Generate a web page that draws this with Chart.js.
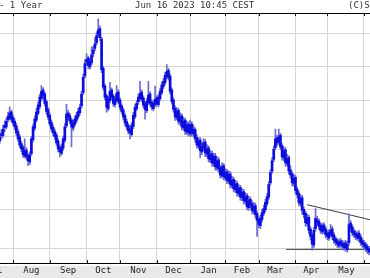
<!DOCTYPE html>
<html>
<head>
<meta charset="utf-8">
<script src="https://cdn.jsdelivr.net/npm/chart.js@4.4.0/dist/chart.umd.min.js"></script>
<style>
  html, body { margin: 0; padding: 0; background: #fff; }
  #wrap { position: relative; width: 370px; height: 278px; overflow: hidden; }
  #band { position: absolute; left: 0; top: 266px; width: 370px; height: 12px; background: #e9e9e9; }
  canvas { position: absolute; left: 0; top: 0; }
  .hdr { position: absolute; top: 0; font: 9px "DejaVu Sans Mono", monospace; color: #333; white-space: pre; line-height: 11px; }
</style>
</head>
<body>
<div id="wrap">
  <div id="band"></div>
  <canvas id="chart" width="370" height="278"></canvas>
  <div class="hdr" style="left:-1px">- 1 Year</div>
  <div class="hdr" style="left:135px">Jun 16 2023 10:45 CEST</div>
  <div class="hdr" style="left:348px">(C)S</div>
</div>
<script>
// daily bars, one per trading day (index 0 ~ late July 2022)
const opens = [
  328.6, 330.2, 330.1, 332.4, 332.6, 334.6, 335.0, 336.9, 335.3, 334.2,
  332.9, 331.3, 329.8, 327.9, 326.9, 324.5, 326.2, 324.6, 322.8, 325.1,
  329.0, 332.2, 334.5, 336.4, 338.4, 340.7, 343.2, 342.1, 339.8, 337.5,
  335.9, 333.9, 332.5, 331.3, 330.3, 328.6, 326.8, 325.2, 326.6, 328.8,
  332.9, 336.6, 335.8, 334.5, 332.2, 333.3, 334.4, 335.5, 336.6, 338.6,
  342.4, 347.3, 351.4, 352.6, 350.0, 351.2, 353.9, 355.5, 357.3, 359.8,
  361.6, 358.4, 349.6, 344.4, 341.5, 337.8, 340.1, 343.2, 341.5, 338.9,
  340.1, 342.6, 340.3, 338.6, 337.4, 335.8, 334.1, 333.0, 331.8, 330.5,
  332.7, 335.5, 337.8, 339.7, 340.7, 342.6, 340.9, 339.2, 337.2, 339.5,
  342.1, 339.7, 337.8, 338.9, 340.9, 338.9, 340.7, 342.4, 344.2, 345.3,
  347.1, 349.0, 347.3, 343.2, 340.3, 337.9, 335.1, 337.3, 333.9, 335.7,
  332.3, 334.5, 331.1, 333.4, 330.6, 333.4, 330.6, 331.8, 329.6, 327.2,
  328.9, 325.6, 326.7, 328.4, 325.0, 326.7, 323.4, 325.1, 322.3, 324.5,
  321.2, 323.4, 321.2, 319.0, 321.8, 318.5, 320.2, 317.5, 319.6, 316.4,
  318.1, 315.3, 317.0, 314.2, 315.9, 313.1, 314.8, 312.1, 313.7, 310.5,
  312.7, 311.6, 309.5, 311.1, 309.0, 307.5, 305.8, 307.4, 309.0, 310.0,
  311.6, 313.3, 317.1, 320.3, 323.5, 326.8, 329.6, 328.5, 330.2, 327.3,
  323.9, 326.2, 322.3, 324.0, 320.7, 319.6, 316.9, 318.6, 315.4, 314.3,
  311.6, 313.2, 310.1, 309.0, 306.3, 308.0, 304.9, 303.3, 300.8, 305.0,
  307.3, 307.0, 306.0, 304.2, 306.0, 305.0, 303.9, 302.6, 303.6, 305.0,
  303.4, 302.4, 301.9, 300.6, 301.9, 301.4, 300.1, 301.4, 299.6, 301.4,
  306.5, 305.5, 304.4, 303.9, 302.6, 303.9, 302.9, 301.9, 301.4, 300.9,
  300.4, 299.9
];
const highs = [
  331.0, 331.8, 333.0, 334.3, 335.1, 336.8, 338.3, 337.4, 336.0, 334.9,
  333.6, 332.0, 330.4, 328.6, 327.4, 329.2, 326.8, 325.2, 325.6, 329.9,
  333.4, 335.7, 337.9, 339.7, 342.0, 344.5, 343.9, 342.6, 340.3, 338.1,
  336.5, 334.6, 333.2, 332.0, 330.9, 329.2, 327.5, 327.8, 330.0, 333.5,
  339.0, 337.3, 336.4, 335.1, 334.5, 335.6, 336.7, 337.9, 339.1, 342.9,
  347.8, 352.2, 354.0, 353.2, 352.6, 356.0, 356.2, 358.8, 360.6, 364.6,
  362.4, 358.9, 350.2, 345.0, 342.0, 341.3, 345.4, 343.8, 342.0, 341.3,
  344.5, 343.2, 340.9, 339.2, 338.0, 336.4, 334.8, 333.6, 332.4, 333.9,
  336.7, 339.0, 340.2, 342.0, 345.7, 343.2, 341.5, 339.8, 340.7, 345.7,
  342.7, 340.3, 340.1, 344.3, 341.5, 341.9, 343.7, 345.5, 346.6, 348.4,
  350.7, 349.6, 347.9, 343.8, 340.9, 338.6, 338.1, 337.9, 336.6, 336.3,
  335.3, 335.1, 334.2, 334.0, 334.5, 334.0, 333.1, 332.4, 330.4, 329.6,
  329.6, 328.2, 329.3, 329.0, 327.6, 327.3, 326.0, 325.8, 325.3, 325.2,
  324.3, 324.0, 321.9, 322.6, 322.4, 321.0, 320.8, 320.4, 320.2, 318.9,
  318.7, 317.8, 317.6, 316.7, 316.5, 315.6, 315.4, 314.5, 314.3, 313.5,
  313.4, 312.3, 311.9, 311.7, 309.6, 308.1, 308.6, 310.1, 311.2, 312.8,
  314.3, 317.5, 320.7, 324.0, 327.3, 332.0, 330.3, 332.0, 330.8, 327.9,
  327.0, 326.8, 324.9, 324.6, 321.8, 320.2, 319.5, 319.2, 316.0, 314.9,
  314.0, 313.8, 310.7, 309.6, 308.8, 308.6, 305.5, 303.9, 305.4, 310.3,
  308.3, 307.6, 306.6, 306.4, 306.6, 305.6, 304.5, 304.8, 306.1, 305.6,
  304.0, 303.0, 302.5, 302.3, 302.5, 302.0, 301.8, 302.0, 301.8, 308.9,
  307.1, 306.1, 305.0, 304.5, 304.3, 304.5, 303.5, 302.5, 302.0, 301.5,
  301.0, 300.5
];
const lows = [
  327.9, 329.1, 329.6, 331.2, 332.0, 333.9, 334.6, 334.0, 333.0, 331.8,
  330.2, 328.6, 326.8, 325.6, 324.1, 323.9, 323.5, 321.8, 322.1, 324.6,
  328.4, 331.6, 333.9, 335.9, 337.8, 340.0, 340.6, 338.6, 336.2, 334.6,
  332.8, 331.2, 330.1, 329.0, 327.4, 325.6, 324.2, 324.7, 326.0, 328.2,
  332.3, 334.6, 333.5, 327.0, 331.5, 332.7, 333.8, 334.9, 336.0, 338.0,
  341.8, 346.7, 350.4, 349.5, 349.3, 350.6, 353.0, 354.8, 356.6, 358.9,
  357.9, 348.3, 343.2, 340.3, 336.8, 337.1, 339.5, 340.4, 338.5, 338.2,
  339.6, 339.2, 337.4, 336.3, 334.6, 332.9, 331.8, 330.6, 329.2, 329.9,
  332.1, 334.9, 337.2, 339.0, 340.1, 339.7, 338.0, 334.8, 336.6, 338.9,
  338.6, 337.4, 337.1, 338.3, 338.5, 338.3, 340.1, 341.8, 343.6, 344.7,
  346.4, 346.1, 342.0, 339.1, 336.8, 334.4, 334.6, 333.3, 333.1, 331.7,
  331.6, 330.5, 330.4, 330.0, 329.9, 330.0, 329.8, 328.2, 326.6, 326.4,
  324.0, 324.8, 325.9, 324.3, 324.2, 322.8, 322.6, 321.7, 321.5, 320.6,
  320.5, 320.0, 318.4, 318.5, 317.9, 317.8, 316.9, 317.0, 315.8, 315.7,
  314.7, 314.6, 313.6, 313.5, 312.5, 312.4, 311.5, 311.4, 309.9, 309.8,
  310.4, 308.9, 308.8, 307.8, 303.0, 305.2, 305.0, 306.8, 308.4, 309.4,
  311.0, 312.7, 316.5, 319.7, 322.9, 326.2, 327.3, 327.7, 326.2, 323.3,
  323.2, 321.7, 321.6, 319.5, 318.4, 316.3, 316.2, 314.2, 313.1, 311.0,
  310.9, 308.9, 307.8, 305.7, 305.6, 303.7, 302.1, 299.5, 300.2, 304.4,
  305.8, 304.8, 303.8, 303.6, 303.8, 302.7, 302.2, 302.0, 303.0, 302.2,
  301.2, 300.7, 300.2, 300.0, 300.2, 299.7, 299.5, 299.2, 299.0, 300.8,
  304.3, 303.2, 302.7, 302.2, 302.0, 301.7, 300.7, 300.2, 299.7, 299.2,
  298.7, 298.3
];
const closes = [
  329.8, 330.6, 332.0, 333.1, 334.2, 335.6, 336.5, 334.8, 333.7, 332.6,
  330.9, 329.2, 327.5, 326.4, 324.8, 325.9, 324.2, 323.1, 324.8, 329.2,
  332.6, 334.8, 336.8, 338.8, 341.1, 342.8, 341.7, 339.3, 337.0, 335.4,
  333.4, 332.0, 330.9, 329.8, 328.1, 326.4, 325.6, 327.0, 329.2, 332.6,
  336.2, 335.4, 334.2, 332.6, 333.7, 334.8, 335.9, 337.0, 338.2, 342.0,
  346.9, 351.0, 352.2, 350.4, 351.6, 353.6, 355.1, 356.9, 359.4, 361.2,
  358.8, 349.2, 344.0, 341.1, 338.2, 340.5, 342.8, 341.1, 339.3, 340.5,
  342.2, 339.9, 338.2, 337.0, 335.4, 333.7, 332.6, 331.4, 330.9, 333.1,
  335.9, 338.2, 339.3, 341.1, 342.2, 340.5, 338.8, 337.6, 339.9, 341.7,
  339.3, 338.2, 339.3, 340.5, 339.3, 341.1, 342.8, 344.6, 345.7, 347.5,
  348.6, 346.9, 342.8, 339.9, 337.6, 335.4, 337.0, 334.2, 335.4, 332.6,
  334.2, 331.4, 333.1, 330.9, 333.1, 330.9, 332.0, 329.2, 327.5, 328.6,
  325.9, 327.0, 328.1, 325.3, 326.4, 323.7, 324.8, 322.6, 324.2, 321.5,
  323.1, 320.9, 319.3, 321.5, 318.8, 319.9, 317.8, 319.3, 316.7, 317.8,
  315.6, 316.7, 314.5, 315.6, 313.4, 314.5, 312.4, 313.4, 310.8, 312.4,
  311.3, 309.8, 310.8, 308.7, 307.2, 306.1, 307.7, 309.2, 310.3, 311.9,
  313.4, 316.7, 319.9, 323.1, 326.4, 329.2, 328.1, 329.8, 327.0, 324.2,
  325.9, 322.6, 323.7, 320.4, 319.3, 317.2, 318.3, 315.1, 314.0, 311.9,
  312.9, 309.8, 308.7, 306.6, 307.7, 304.6, 303.0, 301.0, 304.6, 307.7,
  306.6, 305.6, 304.6, 305.6, 304.6, 303.5, 303.0, 304.0, 304.6, 303.0,
  302.0, 301.5, 301.0, 301.5, 301.0, 300.5, 301.0, 300.0, 301.0, 306.1,
  305.1, 304.0, 303.5, 303.0, 303.5, 302.5, 301.5, 301.0, 300.5, 300.0,
  299.5, 299.0
];

// month starts (bar index) -> grid lines, label positions in between
const monthStarts = [8, 30, 52, 72, 94, 114, 135, 155, 177, 196, 218];
const monthNames = ["Jul", "Aug", "Sep", "Oct", "Nov", "Dec", "Jan", "Feb", "Mar", "Apr", "May"];
const monthMids = [-3, 19, 41, 62, 83, 104, 125, 145, 165, 186.5, 207.5];
const priceLines = [300, 310, 320, 330, 340, 350, 360];

// drawn trend lines (bar index, price)
const resistance = [{ x: 184, y: 311.3 }, { x: 224, y: 307.1 }];
const support = [{ x: 171.5, y: 299.7 }, { x: 224, y: 299.7 }];

const X_MIN = 0.22, X_MAX = 221.59;

const wicks = highs.map((h, i) => ({ x: i, y: [lows[i], h] }));
const bodies = opens.map((o, i) => ({ x: i, y: [o, closes[i]] }));

const GRID = "#d6d6d6";

// short black marks pointing into the plot at each month line
const edgeTicks = {
  id: "edgeTicks",
  afterDraw(chart) {
    const { ctx, chartArea: a, scales: { x } } = chart;
    ctx.save();
    ctx.strokeStyle = "#000";
    ctx.lineWidth = 1;
    ctx.beginPath();
    monthStarts.forEach(v => {
      const px = Math.round(x.getPixelForValue(v)) + 0.5;
      ctx.moveTo(px, a.top);
      ctx.lineTo(px, a.top + 3);
      ctx.moveTo(px, a.bottom);
      ctx.lineTo(px, a.bottom - 3);
    });
    ctx.stroke();
    ctx.restore();
  }
};

new Chart(document.getElementById("chart"), {
  type: "bar",
  data: {
    datasets: [
      { data: bodies, backgroundColor: "#0c0cdc", barThickness: 2, grouped: false, order: 0 },
      { data: wicks, backgroundColor: "#6a6ad6", barThickness: 1, grouped: false, order: 1 },
      { type: "line", data: resistance, borderColor: "#3c3c3c", borderWidth: 1, pointRadius: 0, order: 2 },
      { type: "line", data: support, borderColor: "#3c3c3c", borderWidth: 1, pointRadius: 0, order: 2 }
    ]
  },
  options: {
    responsive: false,
    devicePixelRatio: 1,
    animation: false,
    layout: { padding: { top: 13, left: 0, right: 0, bottom: 0 } },
    plugins: { legend: { display: false }, tooltip: { enabled: false } },
    scales: {
      x: {
        type: "linear",
        position: "bottom",
        min: X_MIN,
        max: X_MAX,
        offset: false,
        afterBuildTicks: s => {
          s.ticks = monthStarts.concat(monthMids).sort((a, b) => a - b).map(v => ({ value: v }));
        },
        // labels may run past the edges, like the cropped original
        afterFit: s => { s.paddingLeft = 0; s.paddingRight = 0; },
        grid: {
          offset: false,
          drawTicks: false,
          color: c => (c.tick && monthStarts.includes(c.tick.value)) ? GRID : "rgba(0,0,0,0)"
        },
        border: { color: "#000", width: 1 },
        ticks: {
          autoSkip: false,
          maxRotation: 0,
          padding: 2,
          color: "#222",
          font: { family: "DejaVu Sans Mono", size: 9 },
          callback: v => {
            const k = monthMids.indexOf(v);
            return k >= 0 ? monthNames[k] : "";
          }
        }
      },
      xTop: {
        type: "linear",
        position: "top",
        min: X_MIN,
        max: X_MAX,
        afterFit: s => { s.paddingLeft = 0; s.paddingRight = 0; },
        grid: { drawOnChartArea: false, drawTicks: false },
        ticks: { display: false },
        border: { color: "#000", width: 1 }
      },
      y: {
        type: "logarithmic",
        min: 296.2,
        max: 366.4,
        afterBuildTicks: s => { s.ticks = priceLines.map(v => ({ value: v })); },
        grid: { color: GRID, drawTicks: false },
        ticks: { display: false },
        border: { display: false }
      }
    }
  },
  plugins: [edgeTicks]
});
</script>
</body>
</html>
